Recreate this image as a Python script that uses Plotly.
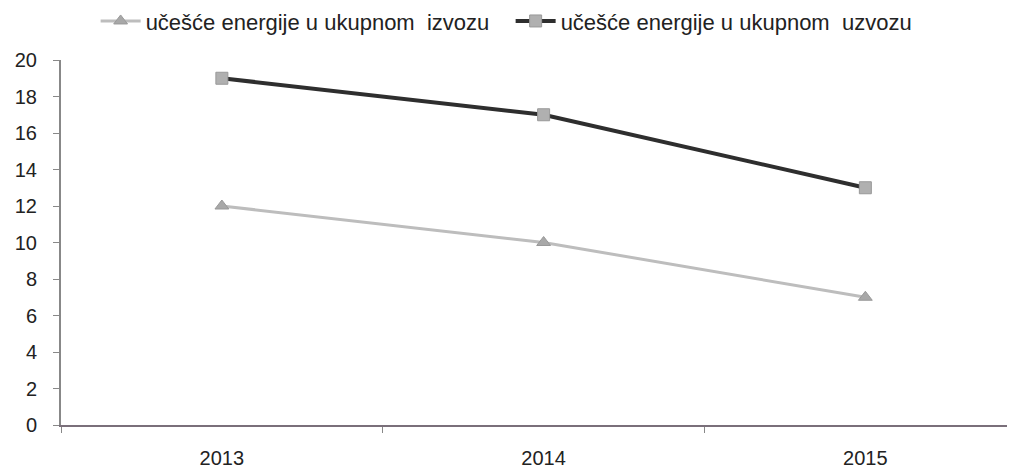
import plotly.graph_objects as go

years = ["2013", "2014", "2015"]
izvoz_share = [12, 10, 7]
uvoz_share = [19, 17, 13]
y_ticks = [0, 2, 4, 6, 8, 10, 12, 14, 16, 18, 20]

font_family = "Liberation Sans Narrow, Arial Narrow, Liberation Sans, Arial"

fig = go.Figure()
fig.add_trace(go.Scatter(
    x=years, y=izvoz_share,
    mode="lines+markers",
    name="učešće energije u ukupnom  izvozu",
    line=dict(color="#bdbdbd", width=3),
    marker=dict(symbol="triangle-up", size=12, color="#a8a8a8",
                line=dict(color="#999999", width=1)),
))
fig.add_trace(go.Scatter(
    x=years, y=uvoz_share,
    mode="lines+markers",
    name="učešće energije u ukupnom  uzvozu",
    line=dict(color="#2e2e2e", width=4),
    marker=dict(symbol="square", size=12, color="#b0b0b0",
                line=dict(color="#999999", width=1)),
))

fig.update_layout(
    width=1015, height=470,
    margin=dict(l=53, r=0, t=52, b=53, autoexpand=False),
    paper_bgcolor="white",
    plot_bgcolor="white",
    font=dict(family=font_family, size=19, color="#222222"),
    showlegend=True,
    legend=dict(
        orientation="h", x=0.036, y=0.972, xanchor="left", yanchor="middle",
        yref="container",
        font=dict(size=22), entrywidth=360, itemwidth=40,
        bgcolor="rgba(0,0,0,0)",
    ),
    xaxis=dict(
        type="category", range=[-0.5, 2.49],
        tickson="boundaries", ticks="outside", ticklen=6, tickcolor="#888888",
        showline=True, linecolor="#7a6f7a", linewidth=2,
        showgrid=False, zeroline=False, ticklabelstandoff=14,
        tickfont=dict(size=20),
    ),
    yaxis=dict(
        range=[0, 20], tickvals=y_ticks,
        ticks="outside", ticklen=6, tickcolor="#888888",
        showline=True, linecolor="#888888", linewidth=2,
        showgrid=False, zeroline=False, ticklabelstandoff=12,
        tickfont=dict(size=20),
    ),
)

fig.write_html("out.html")
